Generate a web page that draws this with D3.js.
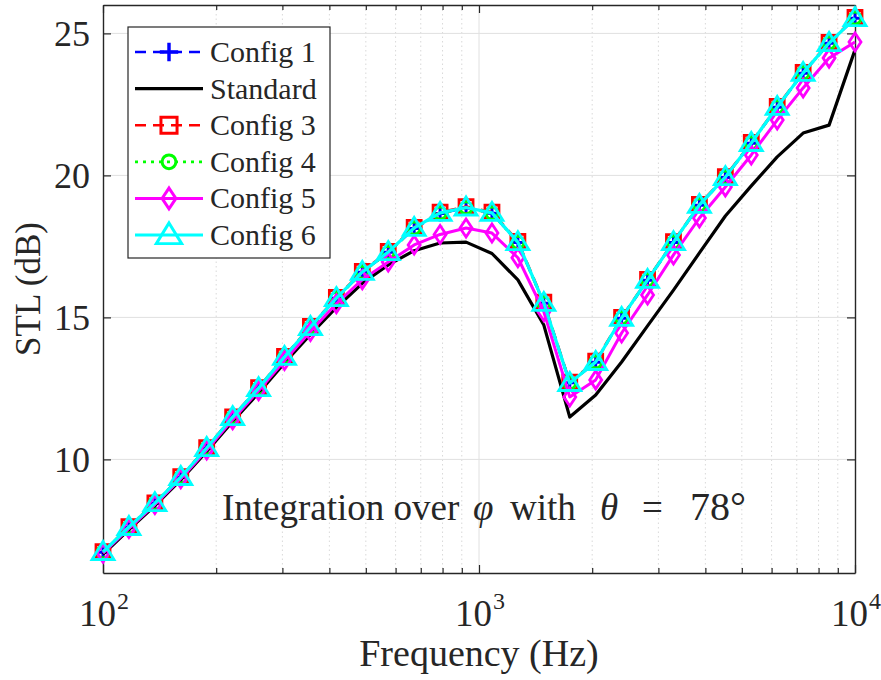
<!DOCTYPE html>
<html>
<head>
<meta charset="utf-8">
<script src="https://cdn.jsdelivr.net/npm/d3@7"></script>
<style>
  html, body { margin: 0; padding: 0; background: #fff; }
  svg { display: block; }
  text { font-family: "Liberation Serif", "Times New Roman", serif; fill: #262626; }
</style>
</head>
<body>
<svg id="chart" width="881" height="680"></svg>
<script>
// ---------------- data ----------------
const freqs = [100, 117.2, 137.4, 161.0, 188.7, 221.2, 259.3, 303.9, 356.2, 417.5,
  489.4, 573.6, 672.3, 788.0, 923.7, 1082.6, 1268.9, 1487.4, 1743.3, 2043.4,
  2395.0, 2807.2, 3290.3, 3856.6, 4520.4, 5298.3, 6210.2, 7279.0, 8531.7, 10000];

const config1 = [6.73, 7.61, 8.46, 9.37, 10.40, 11.48, 12.51, 13.60, 14.66, 15.67,
  16.59, 17.29, 18.13, 18.66, 18.86, 18.67, 17.64, 15.50, 12.70, 13.42,
  14.97, 16.31, 17.64, 18.95, 19.93, 21.13, 22.40, 23.60, 24.65, 25.53];
const standard = [6.66, 7.53, 8.37, 9.28, 10.28, 11.34, 12.34, 13.40, 14.40, 15.35,
  16.20, 16.85, 17.35, 17.62, 17.65, 17.25, 16.32, 14.73, 11.49, 12.27,
  13.43, 14.70, 15.96, 17.27, 18.57, 19.63, 20.65, 21.49, 21.77, 24.42];
const config3 = [6.75, 7.63, 8.47, 9.39, 10.41, 11.50, 12.53, 13.63, 14.68, 15.70,
  16.62, 17.32, 18.17, 18.71, 18.90, 18.71, 17.68, 15.54, 12.72, 13.46,
  15.00, 16.34, 17.67, 18.98, 19.96, 21.16, 22.43, 23.63, 24.68, 25.56];
const config4 = [6.74, 7.62, 8.46, 9.38, 10.40, 11.49, 12.51, 13.61, 14.65, 15.67,
  16.59, 17.29, 18.14, 18.67, 18.86, 18.67, 17.64, 15.50, 12.69, 13.43,
  14.98, 16.32, 17.65, 18.96, 19.94, 21.14, 22.41, 23.61, 24.66, 25.54];
const config5 = [6.70, 7.57, 8.41, 9.32, 10.33, 11.40, 12.42, 13.48, 14.50, 15.48,
  16.33, 16.95, 17.55, 17.92, 18.15, 17.97, 17.10, 15.20, 12.20, 12.80,
  14.45, 15.79, 17.20, 18.50, 19.59, 20.72, 21.95, 23.08, 24.13, 24.70];
const config6 = [6.74, 7.62, 8.46, 9.38, 10.40, 11.49, 12.51, 13.61, 14.66, 15.68,
  16.60, 17.30, 18.15, 18.68, 18.87, 18.68, 17.65, 15.51, 12.69, 13.43,
  14.98, 16.32, 17.65, 18.96, 19.94, 21.14, 22.41, 23.61, 24.66, 25.54];

const seriesNames = ["Config 1", "Standard", "Config 3", "Config 4", "Config 5", "Config 6"];
const seriesValues = [config1, standard, config3, config4, config5, config6];
const yTicks = [10, 15, 20, 25];
const xTickExponents = [2, 3, 4];
const xLabel = "Frequency (Hz)";
const yLabel = "STL (dB)";

// ---------------- styles ----------------
const styles = [
  { color: "#0000ff", dash: "11,7", width: 2.6, marker: "plus" },
  { color: "#000000", dash: null,   width: 3.2, marker: null },
  { color: "#ff0000", dash: "11,7", width: 2.6, marker: "square" },
  { color: "#00ff00", dash: "3,5",  width: 2.8, marker: "circle" },
  { color: "#ff00ff", dash: null,   width: 3,   marker: "diamond" },
  { color: "#00ffff", dash: null,   width: 3.2, marker: "triangle" }
];
const markerPath = {
  plus: "M-8,0H8M0,-8V8",
  square: "M-7,-7H7V7H-7Z",
  circle: "M6,0A6,6 0 1,1 -6,0A6,6 0 1,1 6,0Z",
  diamond: "M0,-9L6,0L0,9L-6,0Z",
  triangle: "M0,-10.5L11,7.5L-11,7.5Z"
};

// ---------------- layout ----------------
const svg = d3.select("#chart");
svg.append("rect").attr("width", 881).attr("height", 680).attr("fill", "#fff");
const L = 103, R = 855, T = 5, B = 573;
const x = d3.scaleLog().domain([100, 10000]).range([L, R]);
const y = d3.scaleLinear().domain([6, 26]).range([B, T]);

const minorX = [];
[100, 1000].forEach(d => { for (let k = 2; k <= 9; k++) minorX.push(d * k); });
const majorX = [1000];

// grid
const grid = svg.append("g");
grid.selectAll(".mg").data(minorX).enter().append("line")
  .attr("x1", d => x(d)).attr("x2", d => x(d)).attr("y1", T).attr("y2", B)
  .attr("stroke", "#d9d9d9").attr("stroke-width", 1).attr("stroke-dasharray", "1.5,3");
grid.selectAll(".Mg").data(majorX).enter().append("line")
  .attr("x1", d => x(d)).attr("x2", d => x(d)).attr("y1", T).attr("y2", B)
  .attr("stroke", "#e0e0e0").attr("stroke-width", 1);
grid.selectAll(".hg").data(yTicks).enter().append("line")
  .attr("x1", L).attr("x2", R).attr("y1", d => y(d)).attr("y2", d => y(d))
  .attr("stroke", "#e0e0e0").attr("stroke-width", 1);

// axes (MATLAB style: inward ticks on all sides)
const decades = [100, 1000, 10000];
const axB = d3.axisBottom(x).tickValues(decades.concat(minorX)).tickFormat("").tickSizeInner(-7).tickSizeOuter(0);
const axT = d3.axisTop(x).tickValues(decades.concat(minorX)).tickFormat("").tickSizeInner(-7).tickSizeOuter(0);
const axL = d3.axisLeft(y).tickValues(yTicks).tickFormat("").tickSizeInner(-8).tickSizeOuter(0);
const axRt = d3.axisRight(y).tickValues(yTicks).tickFormat("").tickSizeInner(-8).tickSizeOuter(0);
function styleAxis(g) {
  g.select(".domain").attr("stroke", "#262626").attr("stroke-width", 1.4);
  g.selectAll(".tick line").attr("stroke", "#262626").attr("stroke-width", 1.2);
}
svg.append("g").attr("transform", `translate(0,${B})`).call(axB).call(styleAxis)
  .selectAll(".tick line").attr("y2", d => (decades.includes(d) ? -8 : -5));
svg.append("g").attr("transform", `translate(0,${T})`).call(axT).call(styleAxis)
  .selectAll(".tick line").attr("y2", d => (decades.includes(d) ? 8 : 5));
svg.append("g").attr("transform", `translate(${L},0)`).call(axL).call(styleAxis);
svg.append("g").attr("transform", `translate(${R},0)`).call(axRt).call(styleAxis);

// tick labels
svg.append("g").selectAll("text").data(yTicks).enter().append("text")
  .attr("x", L - 13).attr("y", d => y(d)).attr("dy", "0.35em")
  .attr("text-anchor", "end").attr("font-size", 36).text(d => d);
const xl = svg.append("g").selectAll("text").data(xTickExponents).enter().append("text")
  .attr("x", d => x(Math.pow(10, d)) + 1).attr("y", 626)
  .attr("text-anchor", "middle").attr("font-size", 37);
xl.append("tspan").text("10");
xl.append("tspan").attr("font-size", 24).attr("dy", -17).attr("dx", 1).text(d => d);

// axis titles
svg.append("text").attr("x", (L + R) / 2).attr("y", 666).attr("text-anchor", "middle")
  .attr("font-size", 38).text(xLabel);
svg.append("text").attr("transform", `translate(40,${(T + B) / 2}) rotate(-90)`)
  .attr("text-anchor", "middle").attr("font-size", 35).text(yLabel);

// series
const line = d3.line().x((d, i) => x(freqs[i])).y(d => y(d));
seriesValues.forEach((vals, si) => {
  const st = styles[si];
  const g = svg.append("g");
  g.append("path").datum(vals).attr("d", line).attr("fill", "none")
    .attr("stroke", st.color).attr("stroke-width", st.width)
    .attr("stroke-linejoin", "round").attr("stroke-dasharray", st.dash);
  if (st.marker) {
    g.selectAll("path.m").data(vals).enter().append("path").attr("class", "m")
      .attr("transform", (d, i) => `translate(${x(freqs[i])},${y(d)})`)
      .attr("d", markerPath[st.marker]).attr("fill", "none")
      .attr("stroke", st.color).attr("stroke-width", st.marker === "plus" ? 3 : 2.8);
  }
});

// annotation
const ann = svg.append("text").attr("y", 520).attr("font-size", 37).attr("fill", "#000");
ann.append("tspan").attr("x", 222).text("Integration over");
ann.append("tspan").attr("x", 473).attr("font-style", "italic").text("φ");
ann.append("tspan").attr("x", 510).text("with");
ann.append("tspan").attr("x", 600).attr("font-style", "italic").text("θ");
ann.append("tspan").attr("x", 642).text("=");
ann.append("tspan").attr("x", 690).attr("font-size", 40).text("78°");

// legend
const lg = svg.append("g");
lg.append("rect").attr("x", 128).attr("y", 27).attr("width", 202).attr("height", 231)
  .attr("fill", "#fff").attr("stroke", "#262626").attr("stroke-width", 1.2);
seriesNames.forEach((name, i) => {
  const st = styles[i];
  const cy = 52 + i * 36.6;
  lg.append("line").attr("x1", 135).attr("x2", 203).attr("y1", cy).attr("y2", cy)
    .attr("stroke", st.color).attr("stroke-width", st.width).attr("stroke-dasharray", st.dash);
  if (st.marker) {
    lg.append("path").attr("transform", `translate(169,${cy}) scale(1.15)`).attr("d", markerPath[st.marker])
      .attr("fill", "none").attr("stroke", st.color).attr("stroke-width", st.marker === "plus" ? 3 : 2.6);
  }
  lg.append("text").attr("x", 210).attr("y", cy).attr("dy", "0.33em").attr("font-size", 30)
    .attr("fill", "#000").text(name);
});
</script>
</body>
</html>
